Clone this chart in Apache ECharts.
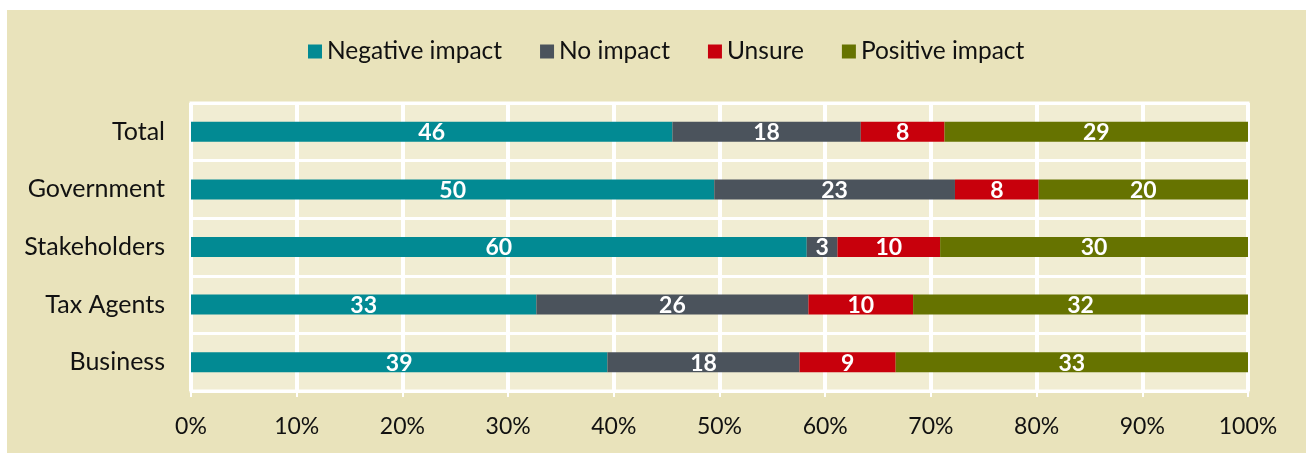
<!DOCTYPE html>
<html>
<head>
<meta charset="utf-8">
<script src="https://cdn.jsdelivr.net/npm/echarts@6/dist/echarts.min.js"></script>
<style>
  html, body { margin: 0; padding: 0; background: #ffffff; }
  #panel { position: absolute; left: 7px; top: 10px; width: 1299px; height: 443px; background: #E9E3BB; }
  #main { position: absolute; left: 0; top: 0; width: 1306px; height: 455px; }
</style>
</head>
<body>
<div id="panel"></div>
<div id="main"></div>
<script>
var categories = ['Total', 'Government', 'Stakeholders', 'Tax Agents', 'Business'];
var negativeImpact = [46, 50, 60, 33, 39];
var noImpact = [18, 23, 3, 26, 18];
var unsure = [8, 8, 10, 10, 9];
var positiveImpact = [29, 20, 30, 32, 33];
var tickLabels = ['0%', '10%', '20%', '30%', '40%', '50%', '60%', '70%', '80%', '90%', '100%'];

// 各行合计，用于换算成百分比堆叠
var totals = categories.map(function (c, i) {
    return negativeImpact[i] + noImpact[i] + unsure[i] + positiveImpact[i];
});
function share(arr) {
    return arr.map(function (v, i) { return v / totals[i] * 100; });
}

var myChart = echarts.init(document.getElementById('main'));

function makeSeries(name, raw, color) {
    return {
        name: name,
        type: 'bar',
        stack: 'total',
        barWidth: 20,
        itemStyle: { color: color },
        label: {
            show: true,
            color: '#ffffff',
            fontWeight: 'bold',
            fontSize: 23,
            offset: [0, 1],
            formatter: function (p) { return raw[p.dataIndex]; }
        },
        data: share(raw)
    };
}

myChart.setOption({
    textStyle: { fontFamily: 'Lato' },
    legend: {
        top: 34,
        left: 303,
        icon: 'rect',
        itemWidth: 14,
        itemHeight: 14,
        itemGap: 38,
        textStyle: { fontSize: 24.5, color: '#111111' },
        data: ['Negative impact', 'No impact', 'Unsure', 'Positive impact']
    },
    grid: {
        left: 191,
        right: 58,
        top: 103,
        bottom: 64,
        show: true,
        backgroundColor: '#F1EDD3',
        borderColor: '#ffffff',
        borderWidth: 3
    },
    xAxis: {
        type: 'value',
        min: 0,
        max: 100,
        interval: 10,
        axisLine: { show: false },
        axisTick: { show: true, length: 6, lineStyle: { color: '#ffffff', width: 2 } },
        splitLine: { show: true, lineStyle: { color: '#ffffff', width: 4 } },
        axisLabel: {
            margin: 24,
            fontSize: 23,
            color: '#111111',
            formatter: function (v) { return tickLabels[Math.round(v / 10)]; }
        }
    },
    yAxis: {
        type: 'category',
        inverse: true,
        data: categories,
        axisLine: { show: false },
        axisTick: { show: false },
        splitLine: { show: true, lineStyle: { color: '#ffffff', width: 3 } },
        axisLabel: { margin: 26, fontSize: 25, color: '#111111' }
    },
    series: [
        makeSeries('Negative impact', negativeImpact, '#028A93'),
        makeSeries('No impact', noImpact, '#4B535C'),
        makeSeries('Unsure', unsure, '#C8000C'),
        makeSeries('Positive impact', positiveImpact, '#667300')
    ]
});
</script>
</body>
</html>
